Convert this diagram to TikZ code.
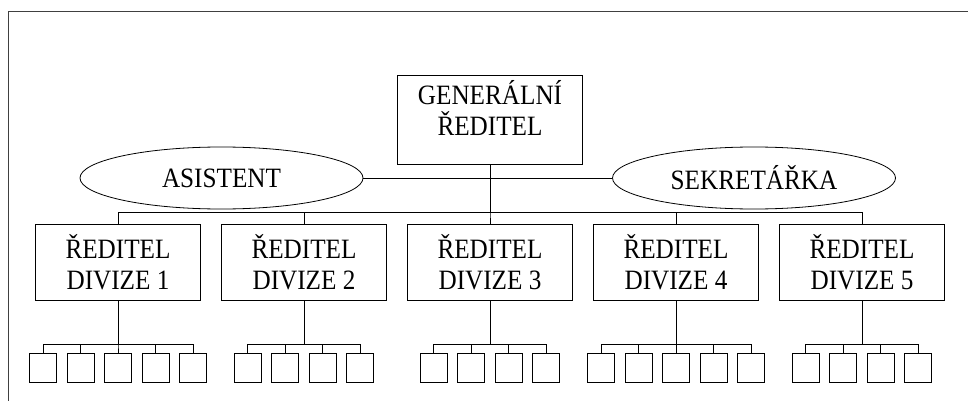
\documentclass[tikz,border=0pt]{standalone}
\usepackage{fontspec}
\setmainfont{Liberation Serif}[FakeStretch=0.9]
\usepackage{tikz}
\usetikzlibrary{shapes.geometric}
\tikzset{
  orgnode/.style = {align=center, inner sep=0pt, text centered,
    font=\fontsize{28}{31}\selectfont},
  nd_gen/.style = {orgnode, rectangle, draw=black, minimum width=185pt, minimum height=89pt, text depth=23pt, thick},% generalni reditel
  nd_div/.style = {orgnode, rectangle, draw=black, minimum width=165pt, minimum height=76pt, thick},% reditel divize
  nd_sub/.style = {orgnode, rectangle, draw=black, minimum width=27pt, minimum height=29pt, thick},% oddeleni
  nd_side/.style = {orgnode, ellipse, draw=black, minimum width=283pt, minimum height=62pt, thick}% stab
}
\begin{document}
\begin{tikzpicture}[x=1pt,y=1pt,edge from parent/.style={draw,thick},
  level 1/.style={sibling distance=186pt, level distance=143pt,
    edge from parent path={(\tikzparentnode.south) -- ++(0,-48) -| (\tikzchildnode.north)}},
  level 2/.style={sibling distance=37.5pt, level distance=105.5pt,
    edge from parent path={(\tikzparentnode.south) -- ++(0,-43.5) -| (\tikzchildnode.north)}}]
\useasboundingbox (0,0) rectangle (968,-401);
\draw [line width=1pt, black!75] (8,-401) -- (8,-12) -- (968,-12);
\node [nd_side] (asist) at (221.5,-178) {ASISTENT};
\node [nd_side] (sekr) at (754,-178) {SEKRETÁŘKA};
\draw [thick] (asist.east) -- (sekr.west);
\node [nd_gen] (gen) at (490,-119.5) {GENERÁLNÍ\\ŘEDITEL}
    child{ node [nd_div] (d1) {ŘEDITEL\\DIVIZE 1}
        child{ node [nd_sub] (d1a) {}}
        child{ node [nd_sub] (d1b) {}}
        child{ node [nd_sub] (d1c) {}}
        child{ node [nd_sub] (d1d) {}}
        child{ node [nd_sub] (d1e) {}}
    }
    child{ node [nd_div] (d2) {ŘEDITEL\\DIVIZE 2}
        child{ node [nd_sub] (d2a) {}}
        child{ node [nd_sub] (d2b) {}}
        child{ node [nd_sub] (d2c) {}}
        child{ node [nd_sub] (d2d) {}}
    }
    child{ node [nd_div] (d3) {ŘEDITEL\\DIVIZE 3}
        child{ node [nd_sub] (d3a) {}}
        child{ node [nd_sub] (d3b) {}}
        child{ node [nd_sub] (d3c) {}}
        child{ node [nd_sub] (d3d) {}}
    }
    child{ node [nd_div] (d4) {ŘEDITEL\\DIVIZE 4}
        child{ node [nd_sub] (d4a) {}}
        child{ node [nd_sub] (d4b) {}}
        child{ node [nd_sub] (d4c) {}}
        child{ node [nd_sub] (d4d) {}}
        child{ node [nd_sub] (d4e) {}}
    }
    child{ node [nd_div] (d5) {ŘEDITEL\\DIVIZE 5}
        child{ node [nd_sub] (d5a) {}}
        child{ node [nd_sub] (d5b) {}}
        child{ node [nd_sub] (d5c) {}}
        child{ node [nd_sub] (d5d) {}}
    }
;
\end{tikzpicture}
\end{document}
